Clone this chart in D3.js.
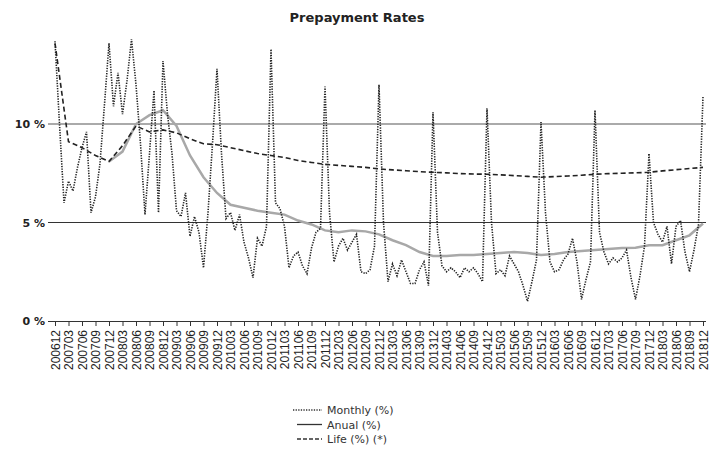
<!DOCTYPE html>
<html>
<head>
<meta charset="utf-8">
<script src="https://cdn.jsdelivr.net/npm/d3@7"></script>
<style>
  body { margin: 0; background: #fff; }
  svg { display: block; }
</style>
</head>
<body>
<div id="chart"></div>
<script>
// quarterly tick labels, 200612 .. 201812 (one every 3 months)
var quarterLabels = ["200612","200703","200706","200709","200712","200803","200806","200809","200812",
  "200903","200906","200909","200912","201003","201006","201009","201012","201103","201106","201109",
  "201112","201203","201206","201209","201212","201303","201306","201309","201312","201403","201406",
  "201409","201412","201503","201506","201509","201512","201603","201606","201609","201612","201703",
  "201706","201709","201712","201803","201806","201809","201812"];

// monthly prepayment (%), one value per month from 200612
var monthly = [14.2,10.0,6.0,7.1,6.6,7.8,8.8,9.6,5.5,6.3,8.0,11.0,
  14.1,10.9,12.6,10.5,12.2,14.3,12.0,9.0,5.4,8.5,11.7,5.5,
  13.2,10.5,8.5,5.6,5.3,6.5,4.3,5.3,4.5,2.7,5.5,9.0,
  12.8,8.5,5.2,5.5,4.6,5.4,4.0,3.2,2.2,4.2,3.8,4.8,
  13.8,6.0,5.7,4.8,2.7,3.3,3.5,2.8,2.4,3.7,4.5,4.7,
  11.9,5.5,3.0,3.8,4.2,3.6,4.0,4.4,2.5,2.4,2.6,3.8,
  12.0,5.0,2.0,2.9,2.3,3.1,2.5,1.9,1.9,2.6,3.0,1.8,
  10.6,4.5,2.8,2.5,2.7,2.5,2.2,2.7,2.5,2.7,2.4,2.0,
  10.8,5.0,2.4,2.6,2.3,3.3,2.9,2.5,1.8,1.0,2.0,3.1,
  10.1,5.5,3.0,2.5,2.6,3.1,3.4,4.2,3.0,1.1,2.1,3.0,
  10.7,4.5,3.5,2.9,3.2,3.0,3.2,3.6,2.2,1.1,2.3,3.8,
  8.5,5.0,4.4,4.0,4.8,2.9,4.8,5.1,3.5,2.5,3.6,4.9,
  11.4];

// annual (%), read at each quarter from 200712
var annual = [8.1,8.6,10.0,10.45,10.7,9.9,8.4,7.3,6.5,5.9,5.75,5.6,5.5,5.4,5.1,4.9,4.6,
  4.5,4.6,4.55,4.4,4.1,3.85,3.5,3.3,3.3,3.35,3.35,3.4,3.45,3.5,3.45,3.35,3.4,3.5,
  3.55,3.6,3.65,3.7,3.72,3.85,3.85,4.1,4.35,4.95];
var annualStart = 4; // first quarter index with an annual value

// life (%), read at each quarter from 200612
var life = [14.1,9.1,8.8,8.4,8.1,8.9,9.9,9.6,9.7,9.55,9.25,9.0,8.95,8.8,8.65,8.5,8.4,
  8.3,8.15,8.05,7.95,7.9,7.85,7.8,7.72,7.67,7.63,7.58,7.55,7.52,7.48,7.46,7.45,
  7.42,7.38,7.34,7.3,7.33,7.36,7.4,7.45,7.48,7.5,7.52,7.55,7.62,7.68,7.74,7.8];

var yTicks = [0, 5, 10];
var legendNames = ["Monthly (%)", "Anual (%)", "Life (%) (*)"];

var svgWidth = 712;
var svgHeight = 471;

var svg = d3.select("#chart")
  .append("svg")
  .attr("width", svgWidth)
  .attr("height", svgHeight);

svg.append("rect")
  .attr("width", svgWidth)
  .attr("height", svgHeight)
  .attr("fill", "#fff");

var xScale = d3.scaleLinear()
  .domain([0, monthly.length - 1])
  .range([55, 703]);

var yScale = d3.scaleLinear()
  .domain([0, 14.3])
  .range([321, 39.3]);

// title
svg.append("text")
  .attr("x", 357)
  .attr("y", 22)
  .attr("text-anchor", "middle")
  .attr("font-family", "DejaVu Sans, sans-serif")
  .attr("font-weight", "bold")
  .attr("font-size", "13px")
  .attr("fill", "#222")
  .text("Prepayment Rates");

// horizontal grid lines at 5 and 10
svg.append("line")
  .attr("x1", 48).attr("x2", 706)
  .attr("y1", yScale(10)).attr("y2", yScale(10))
  .attr("stroke", "#aaa")
  .attr("stroke-width", 2);

svg.append("line")
  .attr("x1", 48).attr("x2", 706)
  .attr("y1", yScale(5)).attr("y2", yScale(5))
  .attr("stroke", "#333")
  .attr("stroke-width", 1.2);

// y labels
svg.selectAll(".ylab")
  .data(yTicks)
  .enter().append("text")
  .attr("class", "ylab")
  .attr("x", 45)
  .attr("y", d => yScale(d) + 4)
  .attr("text-anchor", "end")
  .attr("font-family", "DejaVu Sans, sans-serif")
  .attr("font-weight", "bold")
  .attr("font-size", "11px")
  .attr("fill", "#222")
  .text(d => d + " %");

// x axis
var tickVals = quarterLabels.map((d, i) => i * 3);
var bottomAxis = d3.axisBottom(xScale)
  .tickValues(tickVals)
  .tickSize(5)
  .tickFormat((d, i) => quarterLabels[i]);

var xAxis = svg.append("g")
  .attr("transform", `translate(0,${yScale(0)})`)
  .call(bottomAxis);

xAxis.select(".domain")
  .attr("d", "M48,0.5H706")
  .attr("stroke", "#333")
  .attr("stroke-width", 1.2);
xAxis.selectAll(".tick line").attr("stroke", "#333");
xAxis.selectAll(".tick text")
  .attr("transform", "rotate(-90)")
  .attr("x", -9)
  .attr("y", 0)
  .attr("dy", "0.35em")
  .attr("text-anchor", "end")
  .attr("font-family", "Liberation Sans, Arial, sans-serif")
  .attr("font-size", "12px")
  .attr("fill", "#222");

// series
var lineMonthly = d3.line()
  .x((d, i) => xScale(i))
  .y(d => yScale(d));

var lineAnnual = d3.line()
  .x((d, i) => xScale((i + annualStart) * 3))
  .y(d => yScale(d));

var lineLife = d3.line()
  .x((d, i) => xScale(i * 3))
  .y(d => yScale(d));

svg.append("path")
  .datum(annual)
  .attr("d", lineAnnual)
  .attr("fill", "none")
  .attr("stroke", "#a8a8a8")
  .attr("stroke-width", 2.5);

svg.append("path")
  .datum(life)
  .attr("d", lineLife)
  .attr("fill", "none")
  .attr("stroke", "#222")
  .attr("stroke-width", 1.6)
  .attr("stroke-dasharray", "5,3");

svg.append("path")
  .datum(monthly)
  .attr("d", lineMonthly)
  .attr("fill", "none")
  .attr("stroke", "#222")
  .attr("stroke-width", 1.6)
  .attr("stroke-dasharray", "1.3,1.3");

// legend
var legend = svg.append("g");

var legendDash = ["1.3,1.3", null, "4,2"];
legendNames.forEach(function(name, i) {
  var y = 410 + i * 14.5;
  legend.append("line")
    .attr("x1", i === 0 ? 293 : 297).attr("x2", 322)
    .attr("y1", y).attr("y2", y)
    .attr("stroke", "#333")
    .attr("stroke-width", 1.3)
    .attr("stroke-dasharray", legendDash[i]);
  legend.append("text")
    .attr("x", 327)
    .attr("y", y + 4)
    .attr("font-family", "DejaVu Sans, sans-serif")
    .attr("font-size", "11px")
    .attr("fill", "#333")
    .text(name);
});
</script>
</body>
</html>
